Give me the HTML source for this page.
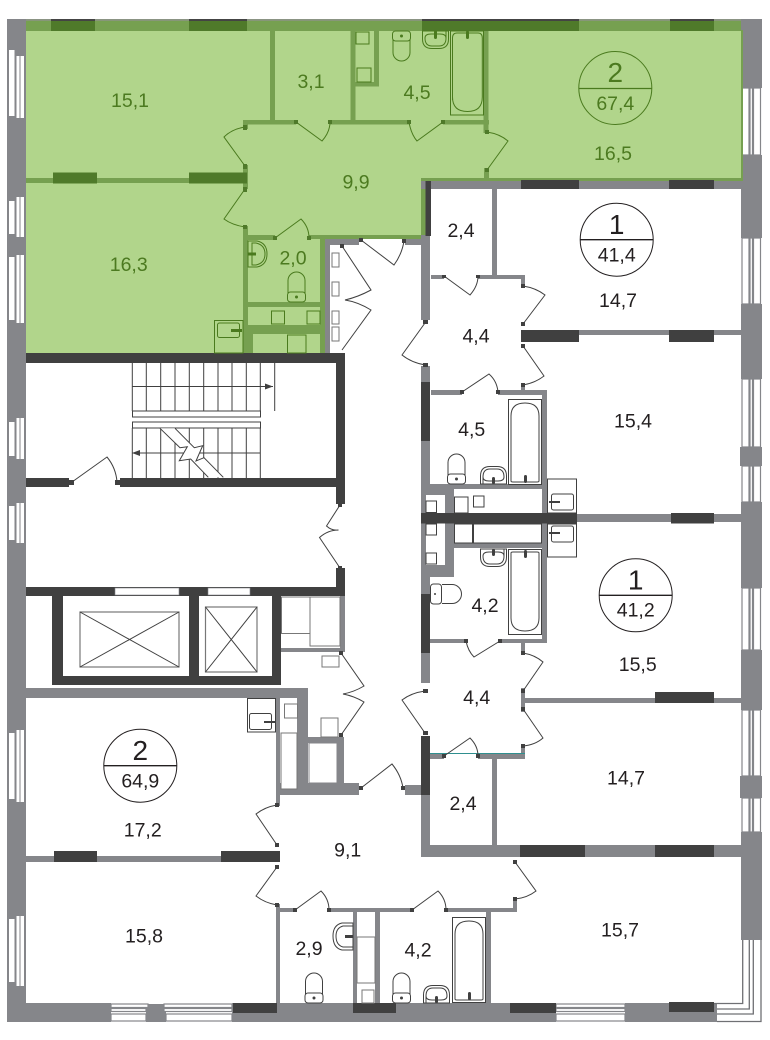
<!DOCTYPE html>
<html><head><meta charset="utf-8"><style>
html,body{margin:0;padding:0;background:#fff}
svg{display:block}
text{font-family:"Liberation Sans",sans-serif;text-anchor:middle;font-size:19.5px;fill:#231f20}
.g text,text.g{fill:#4c7a20}
.big{font-size:28px}
.ln{fill:none;stroke:#404040;stroke-width:1}
.lg{fill:none;stroke:#4a7a1e;stroke-width:1}
</style></head><body>
<svg width="770" height="1040" viewBox="0 0 770 1040" xmlns="http://www.w3.org/2000/svg">
<defs>
<g id="toilet" fill="none" stroke="currentColor"><path d="M1 22V9.500A8.500 8.500 0 0 1 18 9.500V22"/><rect x="0.500" y="21" width="18" height="10" rx="3"/><circle cx="9.500" cy="26" r="1" fill="currentColor"/></g>
<g id="sink" fill="none" stroke="currentColor"><path d="M.5 18V10Q.5 .5 10 .5H17Q26.500 .5 26.500 10V18Z"/><path d="M3 18V11Q3 3 10 3H17Q24 3 24 11Q24 15 18 15H9Q3 15 3 11"/><rect x="12" y="11" width="3" height="7" rx="1.500" fill="currentColor" stroke="none"/></g>
<g id="bath" fill="none" stroke="currentColor"><rect x=".5" y=".5" width="33" height="85"/><path d="M3 82V17Q3 4 17 4Q31 4 31 17V82Q31 83 29 83H5Q3 83 3 82Z"/></g>
<g id="ksink" fill="none" stroke="currentColor"><rect x=".5" y=".5" width="28.500" height="33"/><rect x="4" y="16" width="22" height="15" rx="2"/></g>
</defs>

<rect width="770" height="1040" fill="#fff"/>

<!-- outer grey frame -->
<g fill="#85868a">
<rect x="7" y="19" width="19" height="1003"/>
<rect x="7" y="1003" width="104" height="19"/>
<rect x="146" y="1004" width="20" height="18"/>
<rect x="232" y="1003" width="324" height="19"/>
<rect x="625" y="1003" width="92" height="19"/>
<rect x="741" y="19" width="21" height="69"/>
<rect x="741" y="155" width="21" height="83"/>
<rect x="741" y="304" width="21" height="75"/>
<rect x="740" y="447" width="22" height="19"/>
<rect x="741" y="502" width="21" height="86"/>
<rect x="741" y="650" width="21" height="60"/>
<rect x="740" y="776" width="22" height="22"/>
<rect x="741" y="832" width="21" height="108"/>
<rect x="7" y="19" width="755" height="2"/>
</g>

<!-- left windows -->
<g fill="#fff">
<rect x="9" y="50" width="5.500" height="66"/><rect x="16.500" y="56" width="3" height="62"/><rect x="20.500" y="56" width="3.500" height="62"/>
<rect x="9" y="201" width="5.500" height="33"/><rect x="16.500" y="197" width="3" height="40"/><rect x="20.500" y="197" width="3.500" height="40"/>
<rect x="9" y="257" width="5.500" height="63"/><rect x="16.500" y="255" width="3" height="68"/><rect x="20.500" y="255" width="3.500" height="68"/>
<rect x="9" y="422" width="5.500" height="34"/><rect x="16.500" y="418" width="3" height="41"/><rect x="20.500" y="418" width="3.500" height="41"/>
<rect x="9" y="506" width="5.500" height="34"/><rect x="16.500" y="503" width="3" height="40"/><rect x="20.500" y="503" width="3.500" height="40"/>
<rect x="9" y="733" width="5.500" height="66"/><rect x="16.500" y="730" width="3" height="72"/><rect x="20.500" y="730" width="3.500" height="72"/>
<rect x="9" y="919" width="5.500" height="63"/><rect x="16.500" y="916" width="3" height="70"/><rect x="20.500" y="916" width="3.500" height="70"/>
</g>

<!-- right windows -->
<g fill="#fff" stroke="#85868a" stroke-width="1.200">
<rect x="742" y="88" width="7" height="67"/><rect x="750" y="88" width="2.500" height="67" /><rect x="753.500" y="88" width="7" height="67"/>
<rect x="742" y="238" width="7" height="66"/><rect x="750" y="238" width="2.500" height="66"/><rect x="753.500" y="238" width="7" height="66"/>
<rect x="742" y="379" width="7" height="68"/><rect x="750" y="379" width="2.500" height="68"/><rect x="753.500" y="379" width="7" height="68"/>
<rect x="742" y="466" width="7" height="36"/><rect x="750" y="466" width="2.500" height="36"/><rect x="753.500" y="466" width="7" height="36"/>
<rect x="742" y="588" width="7" height="62"/><rect x="750" y="588" width="2.500" height="62"/><rect x="753.500" y="588" width="7" height="62"/>
<rect x="742" y="710" width="7" height="66"/><rect x="750" y="710" width="2.500" height="66"/><rect x="753.500" y="710" width="7" height="66"/>
<rect x="742" y="798" width="7" height="34"/><rect x="750" y="798" width="2.500" height="34"/><rect x="753.500" y="798" width="7" height="34"/>
</g>

<!-- bottom windows -->
<g fill="#fff" stroke="#85868a" stroke-width="1.200">
<rect x="111" y="1004" width="37" height="3.500"/><rect x="111" y="1008.500" width="35" height="3"/><rect x="111" y="1014" width="35" height="7"/>
<rect x="164" y="1004" width="68" height="3.500"/><rect x="164" y="1008.500" width="68" height="3"/><rect x="166" y="1014" width="66" height="7"/>
<rect x="556" y="1004" width="69" height="3.500"/><rect x="556" y="1008.500" width="69" height="3"/><rect x="556" y="1014" width="69" height="7"/>
</g>
<!-- corner window -->
<path d="M741 940H761.500V1021.500H717V1003H741Z" fill="#fff"/>
<path d="M742.700 940V1003.500H714M749.300 940V1009H717M753.300 940V1014H717M761 940V1021.500H717" fill="none" stroke="#6f7074" stroke-width="1.300"/>

<!-- green apartment -->
<path d="M26 31H741V181H421V238H325V353H26Z" fill="#b1d58b"/>
<g fill="#76a050">
<rect x="26" y="20" width="715" height="11"/>
<rect x="741" y="30" width="2" height="151"/>
<rect x="26" y="178" width="163" height="5"/>
<rect x="270" y="31" width="5" height="90"/>
<rect x="350.500" y="31" width="5" height="90"/>
<rect x="374" y="31" width="5" height="55"/>
<rect x="355" y="82" width="24" height="4.500"/>
<rect x="243" y="120" width="53" height="4.500"/>
<rect x="330" y="120" width="79" height="4.500"/>
<rect x="443" y="120" width="46" height="4.500"/>
<rect x="483.500" y="31" width="5" height="102"/>
<rect x="484" y="168" width="5" height="13"/>
<rect x="243" y="120" width="5" height="9"/>
<rect x="243" y="165" width="5" height="24"/>
<rect x="243" y="226" width="5" height="127"/>
<rect x="248" y="235" width="27" height="5"/>
<rect x="309" y="235" width="112" height="4"/>
<rect x="320" y="238" width="5" height="115"/>
<rect x="248" y="302" width="72" height="5"/>
<rect x="248" y="325" width="72" height="9"/>
<rect x="248" y="334" width="5" height="19"/>
<rect x="421" y="178" width="320" height="3"/>
<rect x="405" y="235" width="25" height="4"/>
<rect x="421" y="181" width="4.500" height="55"/>
</g>
<g fill="#4f7a2a">
<rect x="51" y="20" width="44" height="11"/>
<rect x="189" y="20" width="58" height="11"/>
<rect x="422" y="20" width="157" height="11"/>
<rect x="670" y="20" width="44" height="11"/>
<rect x="53" y="172.500" width="44" height="11"/>
<rect x="189" y="172.500" width="58" height="11"/>
</g>
<rect x="26" y="19" width="715" height="1.800" fill="#8b9484"/>
<rect x="422" y="19" width="157" height="2" fill="#444"/>
<rect x="51" y="19" width="44" height="2" fill="#444"/>
<rect x="189" y="19" width="58" height="2" fill="#444"/>
<rect x="670" y="19" width="44" height="2" fill="#444"/>

<!-- grey walls right -->
<g fill="#85868a">
<rect x="421" y="181" width="320" height="8"/>
<rect x="325" y="239" width="5" height="114"/>
<rect x="326" y="239" width="33" height="6"/>
<rect x="405" y="239" width="25" height="6"/>
<rect x="492" y="189" width="5" height="87"/>
<rect x="421" y="235" width="9" height="85"/>
<rect x="431" y="275" width="13" height="4"/>
<rect x="478" y="275" width="47" height="4"/>
<rect x="521" y="275" width="4" height="12"/>
<rect x="579" y="330" width="90" height="5"/>
<rect x="714" y="330" width="27" height="5"/>
<rect x="521" y="385" width="4" height="8"/>
<rect x="421" y="366" width="9" height="317"/>
<rect x="431" y="390" width="31" height="5"/>
<rect x="498" y="390" width="49" height="5"/>
<rect x="542" y="390" width="5" height="253"/>
<rect x="430" y="484" width="112" height="5"/>
<rect x="421" y="484" width="33" height="11"/>
<rect x="445" y="484" width="9" height="93"/>
<rect x="421" y="565" width="33" height="12"/>
<rect x="454" y="543" width="88" height="5"/>
<rect x="426" y="495" width="19" height="70" fill="#fff"/>
<rect x="577" y="514" width="164" height="8"/>
<rect x="430" y="639" width="36" height="4"/>
<rect x="500" y="639" width="47" height="4"/>
<rect x="521" y="643" width="4" height="10"/>
<rect x="521" y="688" width="4" height="24"/>
<rect x="525" y="698" width="216" height="5"/>
<rect x="521" y="745" width="4" height="14"/>
<rect x="430" y="754" width="14" height="5"/>
<rect x="478" y="754" width="47" height="5"/>
<rect x="492" y="759" width="5" height="88"/>
<rect x="421" y="795" width="9" height="62"/>
<rect x="421" y="845" width="320" height="12"/>
<rect x="405" y="785" width="16" height="10"/>
<!-- lower left -->
<rect x="26" y="688" width="282" height="10"/>
<rect x="297" y="688" width="11" height="107"/>
<rect x="276" y="698" width="4" height="108"/>
<rect x="276" y="783" width="83" height="12"/>
<rect x="308" y="737" width="36" height="6"/>
<rect x="337" y="737" width="7" height="46"/>
<rect x="26" y="856" width="195" height="6"/>
<rect x="276" y="904" width="4" height="99"/>
<rect x="276" y="908" width="19" height="4"/>
<rect x="329" y="908" width="83" height="4"/>
<rect x="446" y="908" width="71" height="4"/>
<rect x="513" y="899" width="4" height="13"/>
<rect x="486" y="912" width="5" height="91"/>
<rect x="353" y="912" width="4" height="91"/>
<rect x="375" y="912" width="5" height="91"/>
<rect x="340" y="596" width="5" height="56"/>
<rect x="281" y="648" width="64" height="4"/>
</g>

<!-- dark walls -->
<g fill="#404040">
<rect x="26" y="353" width="319" height="10"/>
<rect x="336" y="353" width="9" height="151"/>
<rect x="26" y="478" width="43" height="9"/>
<rect x="120" y="478" width="216" height="9"/>
<rect x="26" y="587" width="319" height="9"/>
<rect x="336" y="568" width="9" height="28"/>
<rect x="52" y="596" width="11" height="89"/>
<rect x="52" y="676" width="229" height="9"/>
<rect x="189" y="596" width="10" height="80"/>
<rect x="272" y="596" width="9" height="89"/>
<rect x="425.500" y="181" width="5.500" height="55"/>
<rect x="521" y="180" width="58" height="9"/>
<rect x="669" y="180" width="45" height="9"/>
<rect x="521" y="330" width="58" height="12"/>
<rect x="669" y="330" width="45" height="12"/>
<rect x="421" y="382" width="9" height="59"/>
<rect x="421" y="513" width="156" height="10.500"/>
<rect x="671" y="513" width="43" height="10.500"/>
<rect x="421" y="594" width="9" height="59"/>
<rect x="655" y="692" width="59" height="11"/>
<rect x="421" y="736" width="9" height="59"/>
<rect x="520" y="845" width="65" height="12"/>
<rect x="655" y="845" width="59" height="12"/>
<rect x="54" y="851" width="43" height="11"/>
<rect x="221" y="851" width="59" height="11"/>
<rect x="233" y="1003" width="44" height="10"/>
<rect x="353" y="1003" width="43" height="10"/>
<rect x="510" y="1003" width="46" height="10"/>
<rect x="669" y="1002" width="45" height="10"/>
</g>
<rect x="430" y="753" width="95" height="1" fill="#2f8f8f"/>

<!-- lift door gaps -->
<rect x="115" y="588" width="64" height="7" fill="#fff" stroke="#85868a" stroke-width=".6"/>
<rect x="208" y="588" width="42" height="7" fill="#fff" stroke="#85868a" stroke-width=".6"/>

<!-- lifts -->
<g class="ln">
<rect x="80" y="612" width="99" height="55" stroke="#777" stroke-width="1.200"/>
<path d="M80 612L179 667M80 667L179 612"/>
<rect x="205.500" y="607" width="51.500" height="65" stroke="#777" stroke-width="1.200"/>
<path d="M205.500 607L257 672M205.500 672L257 607"/>
</g>

<!-- stairs -->
<g class="ln">
<path d="M132.300 363V411M146.300 363V411M160.700 363V411M175 363V411M189.300 363V411M203.700 363V411M218 363V411M232 363V411M246.300 363V411M260.300 363V411M274.700 363V411"/>
<path d="M132 386.500H273"/>
<rect x="132.500" y="411" width="128" height="6"/>
<rect x="132.500" y="422" width="128" height="6"/>
<path d="M132.300 428V478M146.300 428V478M160.700 428V478M175 428V478M189.300 428V478M203.700 428V478M218 428V478M232 428V478M246.300 428V478M260.300 428V478"/>
<path d="M132 453H260"/>
</g>
<path d="M273 386.500L265 383.500V389.500Z" fill="#404040"/>
<path d="M132 453L140 450V456Z" fill="#404040"/>
<path d="M160 428.300L180 447.700L187.300 446.700L179.300 460.700L190.700 459L208.300 477.300H223.300L204 457.700L196 461L202.700 445.700L194.300 447.700L175 428.300Z" fill="#fff"/>
<path d="M160 428.300L180 447.700L187.300 446.700L179.300 460.700L190.700 459L208.300 477.300M175 428.300L194.300 447.700L202.700 445.700L196 461L204 457.700L223.300 477.300" class="ln"/>

<!-- corridor pieces / fixtures outlines -->
<g fill="#fff" stroke="#777" stroke-width="1">
<rect x="332" y="253" width="7" height="14"/>
<rect x="332" y="282" width="7" height="14"/>
<rect x="332" y="311" width="7" height="13"/>
<rect x="332" y="327" width="7" height="14"/>
<rect x="281.500" y="597" width="28.500" height="36.500"/>
<rect x="310" y="597" width="30" height="49"/>
<rect x="322" y="656" width="17" height="11"/>
<rect x="284.500" y="704" width="13" height="14"/>
<rect x="281" y="733" width="16" height="56"/>
<rect x="321" y="718" width="17" height="19"/>
<rect x="309" y="743" width="28" height="40" stroke="#85868a"/>
<rect x="426" y="501" width="10.500" height="11.500" stroke="#404040"/>
<rect x="426" y="524" width="10.500" height="11" stroke="#404040"/>
<rect x="426" y="553" width="10.500" height="11" stroke="#404040"/>
<rect x="454.500" y="497" width="13.500" height="16" stroke="#404040"/>
<rect x="473.500" y="496" width="10.500" height="11" stroke="#404040"/>
<rect x="454.500" y="524" width="18" height="19" stroke="#404040"/>
<rect x="473.500" y="524" width="68" height="19" stroke="#404040"/>
<rect x="357" y="937" width="18" height="46"/>
<rect x="362" y="990" width="12" height="13"/>
</g>
<g fill="none" stroke="#4a7a1e" stroke-width="1">
<rect x="356" y="32" width="13" height="12"/>
<rect x="357" y="68" width="14" height="14"/>
<rect x="271.500" y="311" width="13" height="13"/>
<rect x="307" y="311" width="13" height="13"/>
<rect x="287.500" y="335" width="18.500" height="18"/>
</g>

<!-- fixtures green -->
<g style="color:#4a7a1e">
<use href="#toilet" x="287" y="271"/>
<use href="#toilet" transform="translate(411,62) rotate(180)"/>
<use href="#sink" transform="translate(449,49) rotate(180)"/>
<rect x="450.500" y="31" width="33" height="84" fill="none" stroke="#4a7a1e"/>
<path d="M452.500 100V38Q452.500 33 457 33H478Q482.300 33 482.300 38V97Q482.300 111.500 467.500 111.500Q452.500 111.500 452.500 97Z" fill="none" stroke="#4a7a1e"/>
<rect x="466" y="31" width="3" height="8" rx="1.500" fill="#4a7a1e"/>
<rect x="434" y="31" width="3" height="8" rx="1.500" fill="#4a7a1e"/>
<path d="M248 241H257Q267 243 267 254Q267 265 257 267H248Z" fill="none" stroke="#4a7a1e"/>
<path d="M252 243H256Q265 245 265 254Q265 263 256 265H252Z" fill="none" stroke="#4a7a1e"/>
<rect x="248" y="252.500" width="8" height="3" fill="#4a7a1e"/>
<rect x="214.500" y="320.500" width="28.500" height="32.500" fill="none" stroke="#4a7a1e"/>
<rect x="217.500" y="323" width="22" height="14.500" rx="2" fill="none" stroke="#4a7a1e"/>
<rect x="231" y="329" width="11" height="3" fill="#4a7a1e"/>
</g>

<!-- fixtures dark -->
<g style="color:#404040">
<use href="#bath" x="508" y="399"/>
<rect x="524" y="475" width="3" height="8" rx="1.500" fill="#404040"/>
<use href="#sink" x="480" y="466"/>
<use href="#toilet" x="447" y="453"/>
<use href="#sink" transform="translate(507,567) rotate(180)"/>
<g transform="translate(508,635) scale(1,-1)"><use href="#bath"/></g>
<rect x="524" y="550" width="3" height="8" rx="1.500" fill="#404040"/>
<rect x="430.500" y="584" width="11" height="20" rx="3" fill="none" stroke="#404040"/>
<path d="M442 584.500H452A9.500 9.500 0 0 1 452 603.500H442" fill="none" stroke="#404040"/>
<circle cx="435" cy="594" r="1" fill="#404040"/>
<use href="#bath" x="452" y="917"/>
<rect x="468" y="992" width="3" height="8" rx="1.500" fill="#404040"/>
<use href="#toilet" x="392" y="972"/>
<use href="#sink" x="423" y="985"/>
<use href="#toilet" x="304.500" y="972"/>
<path d="M353 923H342Q333 925 333 936Q333 948 342 950H353Z" fill="none" stroke="#404040"/>
<path d="M353 926H343Q336 928 336 936Q336 945 343 947H353Z" fill="none" stroke="#404040"/>
<rect x="345" y="935" width="8" height="3" fill="#404040"/>
<rect x="547.500" y="479" width="29" height="34" fill="none" stroke="#404040"/>
<rect x="551.500" y="494" width="22" height="16" rx="2" fill="none" stroke="#404040"/>
<rect x="549" y="501" width="11" height="2" fill="#404040"/>
<rect x="547.500" y="524" width="29" height="33" fill="none" stroke="#404040"/>
<rect x="551.500" y="526" width="22" height="16" rx="2" fill="none" stroke="#404040"/>
<rect x="549" y="532" width="11" height="2" fill="#404040"/>
<rect x="247.500" y="698.500" width="28" height="33.500" fill="none" stroke="#404040"/>
<rect x="249.500" y="713.500" width="22" height="16" rx="2" fill="none" stroke="#404040"/>
<rect x="264" y="721" width="11" height="2" fill="#404040"/>
</g>

<!-- doors green -->
<g class="lg">
<path d="M245 127Q232 129 224 137L245 166"/>
<path d="M245 189L224 219Q232 225 245 227"/>
<path d="M296 122L322 141Q330 132 330 122"/>
<path d="M409 122Q411 134 417 141L443 122"/>
<path d="M487 132Q500 134 508 141L487 170"/>
<path d="M275 238L301 219Q309 227 309 238"/>
</g>
<!-- doors dark -->
<g class="ln">
<path d="M342 246L371 290Q358 297 345 300Q358 302 371 310L342 350"/>
<path d="M361 240L394 265Q402 254 404 241"/>
<path d="M340 505L326.500 526Q332 531 338.500 530Q328 530 319.500 537.500L340 568"/>
<path d="M72 482L107 457Q116 468 117 482"/>
<path d="M444 276L470 295Q478 286 478 276"/>
<path d="M523 286Q536 288 545 295L523 324"/>
<path d="M425.700 322L402 355Q412 363 425.700 365"/>
<path d="M523 346L544 376Q535 383 523 385"/>
<path d="M462 392L489 374Q497 381 498 392"/>
<path d="M466 641Q468 651 474 657L500 641"/>
<path d="M523 653Q535 655 543 662L523 691"/>
<path d="M425 691Q411 693 402 700L425 733"/>
<path d="M523 709L543 738Q535 745 523 746"/>
<path d="M444 756L470 738Q478 746 478 756"/>
<path d="M341 653L364 686Q354 692 343 694Q354 696 364 702L341 735"/>
<path d="M361 788L392 764Q401 775 403 788"/>
<path d="M277 805Q265 807 256 814L277 845"/>
<path d="M277 867L256 896Q265 903 277 905"/>
<path d="M295 910L321 891Q329 899 329 910"/>
<path d="M412 910L438 891Q446 899 446 910"/>
<path d="M515 899Q527 898 536 891L515 862"/>
</g>
<!-- hinges -->
<g fill="#404040">
<rect x="340" y="244" width="4" height="4"/><rect x="359" y="238" width="4" height="4"/><rect x="402" y="239" width="4" height="4"/>
<rect x="338" y="503" width="4" height="4"/><rect x="338" y="566" width="4" height="4"/>
<rect x="69" y="480" width="5" height="5"/><rect x="115" y="480" width="5" height="5"/>
<rect x="442" y="275" width="4" height="3"/><rect x="476" y="275" width="4" height="3"/>
<rect x="521" y="284" width="4" height="4"/><rect x="521" y="322" width="4" height="4"/>
<rect x="423" y="320" width="5" height="4"/><rect x="423" y="363" width="5" height="4"/>
<rect x="521" y="344" width="4" height="4"/><rect x="521" y="383" width="4" height="4"/>
<rect x="460" y="390" width="4" height="4"/><rect x="496" y="390" width="4" height="4"/>
<rect x="464" y="639" width="4" height="4"/><rect x="498" y="639" width="4" height="4"/>
<rect x="521" y="651" width="4" height="4"/><rect x="521" y="689" width="4" height="4"/>
<rect x="423" y="689" width="5" height="4"/><rect x="423" y="731" width="5" height="4"/>
<rect x="521" y="707" width="4" height="4"/><rect x="521" y="744" width="4" height="4"/>
<rect x="442" y="754" width="4" height="4"/><rect x="476" y="754" width="4" height="4"/>
<rect x="339" y="651" width="4" height="4"/><rect x="339" y="733" width="4" height="4"/>
<rect x="359" y="786" width="4" height="4"/><rect x="401" y="786" width="4" height="4"/>
<rect x="275" y="803" width="4" height="4"/><rect x="275" y="843" width="4" height="4"/>
<rect x="275" y="865" width="4" height="4"/><rect x="275" y="903" width="4" height="4"/>
<rect x="293" y="908" width="4" height="4"/><rect x="327" y="908" width="4" height="4"/>
<rect x="410" y="908" width="4" height="4"/><rect x="444" y="908" width="4" height="4"/>
<rect x="513" y="897" width="4" height="4"/><rect x="513" y="860" width="4" height="4"/>
</g>
<g fill="#4f7a2a">
<rect x="243" y="125" width="4" height="5"/><rect x="243" y="164" width="4" height="5"/>
<rect x="243" y="187" width="4" height="5"/><rect x="243" y="225" width="4" height="4"/>
<rect x="294" y="120" width="4" height="4"/><rect x="328" y="120" width="4" height="4"/>
<rect x="407" y="120" width="4" height="4"/><rect x="441" y="120" width="4" height="4"/>
<rect x="485" y="130" width="4" height="4"/><rect x="485" y="168" width="4" height="4"/>
<rect x="273" y="236" width="4" height="4"/><rect x="307" y="236" width="4" height="4"/>
</g>

<!-- circles -->
<g fill="none" stroke="#4a7a1e" stroke-width="1">
<circle cx="615.300" cy="88" r="36.500"/><path d="M579 88.500H652" stroke-width="1.300"/>
</g>
<g fill="none" stroke="#231f20" stroke-width="1">
<circle cx="616.700" cy="239.700" r="36.500"/><path d="M580 239.700H653" stroke-width="1.300"/>
<circle cx="635.700" cy="595.300" r="36.500"/><path d="M599 595.300H672" stroke-width="1.300"/>
<circle cx="140.300" cy="765.700" r="36.500"/><path d="M104 765.700H177" stroke-width="1.300"/>
</g>

<!-- labels -->
<g class="g">
<text x="130" y="107">15,1</text>
<text x="311" y="88">3,1</text>
<text x="417" y="99">4,5</text>
<text x="356" y="188.700">9,9</text>
<text x="128.700" y="271">16,3</text>
<text x="293" y="264.700">2,0</text>
<text x="613" y="160">16,5</text>
<text x="615.300" y="82" class="big">2</text>
<text x="615.300" y="110">67,4</text>
</g>
<text x="616.700" y="234" class="big">1</text>
<text x="616.700" y="261.700">41,4</text>
<text x="461" y="237">2,4</text>
<text x="618" y="307">14,7</text>
<text x="476" y="342.700">4,4</text>
<text x="633" y="427.700">15,4</text>
<text x="471.700" y="436">4,5</text>
<text x="485" y="612">4,2</text>
<text x="635.700" y="589.700" class="big">1</text>
<text x="635.700" y="616.700">41,2</text>
<text x="637.700" y="671">15,5</text>
<text x="476.700" y="704">4,4</text>
<text x="626" y="784.700">14,7</text>
<text x="463" y="810">2,4</text>
<text x="620" y="936.300">15,7</text>
<text x="418" y="956.300">4,2</text>
<text x="140.300" y="760" class="big">2</text>
<text x="140.300" y="787.700">64,9</text>
<text x="142.700" y="836.700">17,2</text>
<text x="347.700" y="856.700">9,1</text>
<text x="144" y="942.300">15,8</text>
<text x="309" y="955">2,9</text>
</svg>
</body></html>
